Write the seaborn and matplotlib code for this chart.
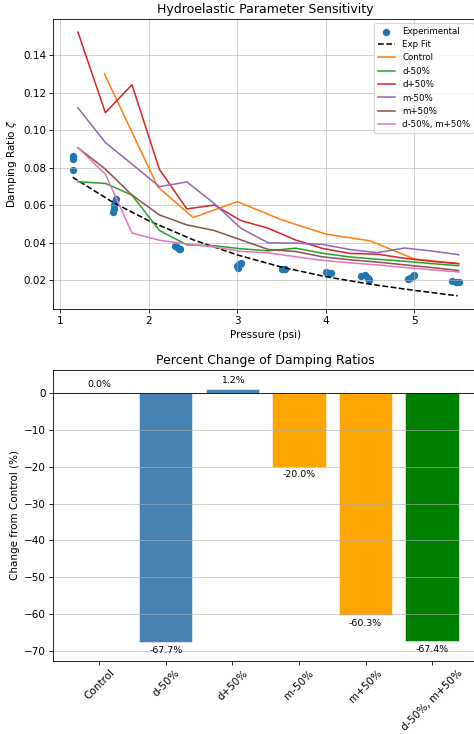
import numpy as np
import pandas as pd
import seaborn as sns
import matplotlib
matplotlib.use("Agg")
import matplotlib.pyplot as plt

# experimental measurements (pressure psi, damping ratio)
exp_p = [1.14, 1.14, 1.14, 1.14, 1.60, 1.61, 1.61, 1.62, 1.63,
         2.30, 2.32, 2.34, 2.35, 3.00, 3.01, 3.02, 3.03, 3.04,
         3.50, 3.54, 4.00, 4.03, 4.06, 4.40, 4.44, 4.47, 4.49,
         4.93, 4.95, 4.98, 5.00, 5.42, 5.47, 5.50]
exp_zeta = [0.0865, 0.0858, 0.0845, 0.0788, 0.0565, 0.0580, 0.0600, 0.0620, 0.0635,
            0.0385, 0.0378, 0.0370, 0.0366, 0.0275, 0.0268, 0.0285, 0.0290, 0.0295,
            0.0260, 0.0262, 0.0245, 0.0240, 0.0238, 0.0225, 0.0230, 0.0215, 0.0205,
            0.0208, 0.0215, 0.0225, 0.0230, 0.0195, 0.0193, 0.0192]

# exponential fit
fit_p = [1.14, 1.6, 2.0, 2.5, 3.0, 3.5, 4.0, 4.5, 5.0, 5.49]
fit_zeta = [0.0750, 0.0615, 0.0518, 0.0417, 0.0336, 0.0271, 0.0220, 0.0180, 0.0147, 0.0118]

# simulated sweeps
control_p = [1.5, 2.1, 2.5, 3.0, 3.5, 4.0, 4.5, 5.0, 5.5]
control_zeta = [0.130, 0.070, 0.0535, 0.0620, 0.0523, 0.0447, 0.0411, 0.0314, 0.0290]

sim_p = [1.2, 1.51, 1.81, 2.12, 2.43, 2.74, 3.04, 3.35, 3.66, 3.96, 4.27, 4.58, 4.89, 5.19, 5.5]
d_minus = [0.0726, 0.0717, 0.0655, 0.0466, 0.0390, 0.0385, 0.0369, 0.0358, 0.0372, 0.0345,
           0.0325, 0.0313, 0.0302, 0.0290, 0.0278]
d_plus = [0.1523, 0.1094, 0.1243, 0.0792, 0.0581, 0.0602, 0.0519, 0.0478, 0.0415, 0.0371,
          0.0344, 0.0340, 0.0318, 0.0302, 0.0289]
m_minus = [0.1120, 0.0935, 0.0820, 0.0700, 0.0725, 0.0610, 0.0478, 0.0400, 0.0399, 0.0392,
           0.0365, 0.0348, 0.0373, 0.0357, 0.0337]
m_plus = [0.0907, 0.0793, 0.0655, 0.0549, 0.0496, 0.0466, 0.0416, 0.0365, 0.0354, 0.0326,
          0.0310, 0.0298, 0.0283, 0.0269, 0.0253]
dm_combo = [0.0908, 0.0766, 0.0453, 0.0414, 0.0395, 0.0378, 0.0355, 0.0347, 0.0326, 0.0307,
            0.0294, 0.0283, 0.0269, 0.0257, 0.0245]

# percent change vs control
cases = ['Control', 'd-50%', 'd+50%', 'm-50%', 'm+50%', 'd-50%, m+50%']
pct_change = [0.0, -67.7, 1.2, -20.0, -60.3, -67.4]
bar_colors = ['steelblue', 'steelblue', 'steelblue', 'orange', 'orange', 'green']

DPI = 75
fig = plt.figure(figsize=(474 / DPI, 734 / DPI), dpi=DPI)
ax1 = fig.add_axes([0.1125, 0.579, 0.896, 0.3951])
ax2 = fig.add_axes([0.1125, 0.0999, 0.896, 0.3956])

# --- top: sensitivity curves ---
sns.scatterplot(x=exp_p, y=exp_zeta, s=50, color='C0', linewidth=0, label='Experimental', ax=ax1)
sns.lineplot(x=fit_p, y=fit_zeta, color='black', linestyle='--', label='Exp Fit', ax=ax1)
sns.lineplot(x=control_p, y=control_zeta, color='C1', label='Control', ax=ax1)
sim_series = [('d-50%', d_minus, 'C2'), ('d+50%', d_plus, 'C3'), ('m-50%', m_minus, 'C4'),
              ('m+50%', m_plus, 'C5'), ('d-50%, m+50%', dm_combo, 'C6')]
for name, vals, c in sim_series:
    sns.lineplot(x=sim_p, y=vals, color=c, label=name, ax=ax1)

ax1.set_xlabel('Pressure (psi)')
ax1.set_ylabel(r'Damping Ratio $\zeta$')
ax1.set_title('Hydroelastic Parameter Sensitivity')
ax1.grid(True, alpha=0.7)
ax1.legend(loc='upper right', fontsize='small')

# --- bottom: percent change bars ---
df = pd.DataFrame({'case': cases, 'pct': pct_change})
sns.barplot(data=df, x='case', y='pct', hue='case', palette=bar_colors, saturation=1,
            legend=False, width=0.8, edgecolor='white', linewidth=0.5, ax=ax2)
ax2.set_xlim(-0.69, 5.69)
ax2.set_ylim(min(pct_change) - 5, max(pct_change) + 5)
ax2.axhline(0, color='black', linewidth=0.8)
for i, v in enumerate(pct_change):
    if v >= 0:
        ax2.text(i, v + 1, f'{v:.1f}%', ha='center', va='bottom', fontsize=9)
    else:
        ax2.text(i, v - 1, f'{v:.1f}%', ha='center', va='top', fontsize=9)

ax2.set_xlabel('')
ax2.set_ylabel('Change from Control (%)')
ax2.set_title('Percent Change of Damping Ratios')
ax2.grid(True, axis='y', alpha=0.7)
ax2.tick_params(axis='x', labelrotation=45)

fig.savefig('out.png', dpi=DPI)
